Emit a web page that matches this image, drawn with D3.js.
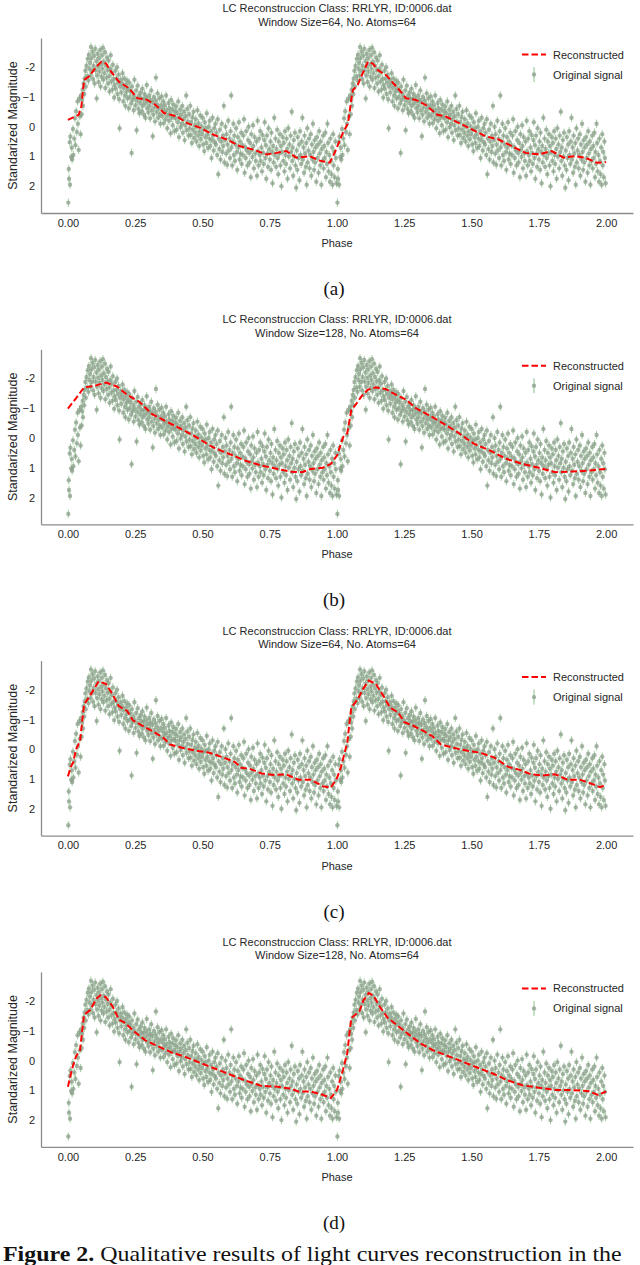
<!DOCTYPE html>
<html lang="en">
<head>
<meta charset="UTF-8">
<style>
  body { margin: 0; background: #fff; }
  svg text { font-family: "Liberation Sans", Arial, sans-serif; fill: #262626; }
  svg .cap { font-family: "Liberation Serif", "DejaVu Serif", serif; fill: #111; }
</style>
</head>
<body>
<svg id="fig" width="640" height="1265"></svg>
<script src="https://cdnjs.cloudflare.com/ajax/libs/d3/7.8.5/d3.min.js"></script>
<script>
// observed magnitudes over one phase period [phase, magnitude]; drawn twice (phase 0-2)
const observed = [
  [0.0015,2.55],[0.0032,1.42],[0.0041,1.75],[0.0068,0.52],[0.0079,1.95],[0.0093,0.33],[0.0121,1.02],[0.0144,0.71],[0.0158,1.1],[0.0187,0.08],[0.0203,0.95],[0.0236,0.4],
  [0.0262,-0.28],[0.0281,0.62],[0.0305,-0.52],[0.0334,0.18],[0.0359,-0.85],[0.0372,-0.1],[0.0401,0.78],[0.0428,-0.95],[0.0445,-0.35],[0.0473,0.25],[0.0491,-1.05],
  [0.0512,-0.42],[0.0528,-0.9],[0.0549,-1.25],[0.0561,-0.7],[0.0583,-1.45],[0.0607,-1.1],[0.0622,-1.62],[0.0648,-1.88],[0.0665,-1.35],[0.0691,-2.05],[0.0718,-1.7],[0.0737,-2.28],
  [0.0763,-1.55],[0.0781,-2.42],[0.0794,-1.95],[0.0822,-2.15],[0.0838,-1.72],[0.0857,-2.68],[0.0871,-2.3],[0.0895,-1.88],[0.0912,-2.52],[0.0934,-1.6],[0.0951,-2.05],[0.0978,-2.38],[0.0993,-1.45],
  [0.1012,-2.62],[0.1027,-1.9],[0.1058,-2.2],[0.1069,-0.95],[0.1083,-1.72],[0.1104,-2.45],[0.1122,-2.02],[0.1139,-1.5],[0.1156,-2.3],[0.1171,-1.85],[0.1198,-2.58],[0.1215,-1.35],[0.1233,-2.1],[0.1247,-1.68],
  [0.1266,-2.4],[0.1281,-1.95],[0.1302,-2.65],[0.1318,-1.58],[0.1335,-2.18],[0.1352,-1.8],[0.1378,-2.5],[0.1391,-1.3],[0.1413,-2.05],[0.1437,-1.65],[0.1452,-2.32],[0.1476,-1.9],[0.1494,-1.45],
  [0.1512,-2.22],[0.1538,-1.7],[0.1547,-1.18],[0.1573,-1.95],[0.1589,-2.4],[0.1612,-1.52],[0.1634,-1.82],[0.1655,-1.25],[0.1671,-2.08],[0.1697,-1.6],[0.1718,-0.98],[0.1734,-1.4],
  [0.1762,-1.88],[0.1779,-1.28],[0.1802,-1.62],[0.1826,-2.0],[0.1843,-1.1],[0.1861,-1.48],[0.1885,-1.75],[0.1902,-0.92],[0.1921,0.05],[0.1938,-1.35],[0.1964,-1.58],[0.1983,-1.15],
  [0.2015,-1.45],[0.2031,-1.8],[0.2058,-0.85],[0.2074,-1.3],[0.2092,-1.62],[0.2118,-1.05],[0.2137,-0.7],[0.2155,-1.4],[0.2178,-1.18],[0.2196,-1.55],[0.2214,-0.95],[0.2241,-1.28],
  [0.2263,-0.62],[0.2279,-1.48],[0.2301,-1.0],[0.2325,-1.2],[0.2348,-0.78],[0.2367,0.88],[0.2382,-1.35],[0.2404,-0.9],[0.2429,-1.1],[0.2445,-0.55],[0.2471,-1.58],[0.2489,-0.98],
  [0.2513,-0.72],[0.2536,-1.22],[0.2552,0.12],[0.2578,-0.88],[0.2595,-1.38],[0.2617,-0.6],[0.2638,-1.05],[0.2659,-0.45],[0.2684,-0.8],[0.2702,-1.15],[0.2725,-0.95],[0.2746,-0.52],
  [0.2768,-1.28],[0.2781,-0.7],[0.2809,-0.92],[0.2826,-0.4],[0.2844,-1.1],[0.2867,-0.78],[0.2883,-0.3],[0.2911,-0.98],[0.2929,-1.4],[0.2946,-0.62],[0.2973,-0.85],[0.2991,-0.48],
  [0.3018,-1.05],[0.3035,-0.7],[0.3057,-0.28],[0.3072,-0.9],[0.3098,-1.22],[0.3116,-0.55],[0.3139,-0.82],[0.3154,0.32],[0.3177,-0.4],[0.3195,-1.0],[0.3218,-0.65],[0.3236,-0.18],
  [0.3258,-0.88],[0.3271,-1.65],[0.3297,-0.5],[0.3315,-0.75],[0.3334,-1.12],[0.3352,-0.3],[0.3379,-0.62],[0.3395,-0.95],[0.3418,-0.42],[0.3436,-0.1],[0.3459,-0.72],[0.3481,-1.02],
  [0.3502,-0.35],[0.3527,-0.6],[0.3545,-0.85],[0.3561,-0.12],[0.3589,-0.48],[0.3603,-0.72],[0.3628,-0.25],[0.3649,-1.05],[0.3667,-0.55],[0.3691,0.05],[0.3712,-0.38],[0.3738,-0.8],
  [0.3756,-0.2],[0.3772,-0.62],[0.3795,-0.45],[0.3818,0.22],[0.3836,-0.9],[0.3853,-0.3],[0.3877,-0.58],[0.3895,-0.05],[0.3914,-0.75],[0.3938,-0.35],[0.3957,0.15],[0.3981,-0.52],
  [0.4003,-0.28],[0.4019,-0.68],[0.4042,0.1],[0.4065,-0.45],[0.4088,-0.15],[0.4101,-0.85],[0.4127,0.35],[0.4145,-0.3],[0.4168,-0.58],[0.4186,0.02],[0.4209,-0.4],[0.4234,-0.1],
  [0.4252,-0.7],[0.4273,0.2],[0.4291,-0.25],[0.4316,-0.5],[0.4338,0.45],[0.4357,-0.05],[0.4379,-0.35],[0.4396,-1.05],[0.4412,0.12],[0.4437,-0.6],[0.4458,-0.18],[0.4483,0.3],
  [0.4504,-0.42],[0.4521,0.05],[0.4548,-0.7],[0.4566,0.28],[0.4582,-0.15],[0.4607,0.55],[0.4628,-0.32],[0.4643,0.1],[0.4669,-0.5],[0.4688,0.38],[0.4712,-0.05],[0.4735,0.2],
  [0.4751,-0.25],[0.4778,0.5],[0.4796,0.0],[0.4812,-0.55],[0.4839,0.3],[0.4855,-0.12],[0.4877,0.65],[0.4892,0.15],[0.4918,-0.38],[0.4936,0.42],[0.4957,-0.02],[0.4982,0.25],
  [0.5008,-0.3],[0.5026,0.6],[0.5041,0.1],[0.5067,0.82],[0.5085,-0.15],[0.5103,0.35],[0.5128,0.05],[0.5146,0.55],[0.5161,-0.45],[0.5187,0.25],[0.5209,0.72],[0.5232,0.0],
  [0.5255,0.4],[0.5271,-0.2],[0.5293,0.65],[0.5318,0.15],[0.5337,1.05],[0.5352,0.45],[0.5376,-0.3],[0.5394,0.3],[0.5417,0.8],[0.5436,0.05],[0.5458,0.52],[0.5483,-0.1],
  [0.5502,0.6],[0.5524,0.2],[0.5547,0.95],[0.5569,-0.25],[0.5588,1.6],[0.5605,0.4],[0.5627,0.75],[0.5649,0.1],[0.5671,1.1],[0.5694,0.5],[0.5718,-0.1],[0.5736,0.85],
  [0.5758,0.3],[0.5773,0.65],[0.5796,-0.7],[0.5814,1.2],[0.5837,0.45],[0.5856,0.0],[0.5879,0.9],[0.5895,0.25],[0.5918,1.28],[0.5935,0.6],[0.5959,-0.2],[0.5982,0.8],
  [0.6006,0.4],[0.6024,1.05],[0.6047,0.15],[0.6068,-1.05],[0.6081,0.7],[0.6105,1.3],[0.6126,0.5],[0.6148,-0.1],[0.6167,0.95],[0.6185,0.3],[0.6208,1.15],[0.6234,0.6],
  [0.6251,0.05],[0.6277,0.85],[0.6294,1.45],[0.6316,0.35],[0.6339,0.7],[0.6355,-0.15],[0.6378,1.1],[0.6396,0.5],[0.6413,0.9],[0.6438,0.2],[0.6457,1.25],[0.6481,0.62],
  [0.6503,0.95],[0.6522,0.3],[0.6545,-0.25],[0.6568,1.55],[0.6584,0.68],[0.6609,1.05],[0.6626,0.15],[0.6647,0.8],[0.6671,1.3],[0.6693,0.45],[0.6715,0.0],[0.6736,0.88],
  [0.6752,1.2],[0.6774,0.55],[0.6798,1.7],[0.6815,0.25],[0.6833,0.78],[0.6857,1.02],[0.6879,-0.05],[0.6894,0.65],[0.6912,1.4],[0.6937,0.35],[0.6959,0.9],[0.6984,1.15],
  [0.7008,0.5],[0.7027,1.65],[0.7049,-0.2],[0.7063,0.82],[0.7088,1.3],[0.7105,0.4],[0.7129,0.95],[0.7146,0.15],[0.7165,1.15],[0.7191,0.7],[0.7213,1.5],[0.7232,0.28],
  [0.7254,0.88],[0.7277,1.25],[0.7298,0.45],[0.7314,-0.15],[0.7336,1.05],[0.7359,0.62],[0.7372,1.75],[0.7397,0.3],[0.7418,0.9],[0.7436,1.35],[0.7457,0.05],[0.7484,0.75],
  [0.7506,1.1],[0.7528,0.5],[0.7549,1.45],[0.7563,0.2],[0.7588,0.85],[0.7604,1.9],[0.7627,0.65],[0.7646,1.2],[0.7669,-0.3],[0.7688,0.95],[0.7714,0.4],[0.7735,1.35],
  [0.7752,0.75],[0.7777,0.1],[0.7795,1.05],[0.7816,1.6],[0.7834,0.5],[0.7858,0.9],[0.7879,0.25],[0.7897,1.3],[0.7916,0.65],[0.7935,2.0],[0.7958,0.85],[0.7984,0.35],
  [0.8003,1.15],[0.8025,0.55],[0.8047,1.5],[0.8069,0.15],[0.8084,0.95],[0.8107,1.25],[0.8129,0.4],[0.8146,0.75],[0.8163,1.75],[0.8188,0.05],[0.8212,1.0],[0.8233,0.6],
  [0.8256,1.4],[0.8278,0.3],[0.8295,0.85],[0.8318,-0.5],[0.8337,1.15],[0.8354,0.7],[0.8372,1.65],[0.8396,0.45],[0.8419,1.0],[0.8437,0.2],[0.8458,1.3],[0.8483,2.05],
  [0.8502,0.8],[0.8526,1.45],[0.8543,0.35],[0.8567,1.05],[0.8589,0.6],[0.8605,1.8],[0.8627,0.15],[0.8645,0.95],[0.8668,1.25],[0.8691,0.5],[0.8713,-0.3],[0.8734,1.1],
  [0.8757,0.7],[0.8776,1.55],[0.8794,0.3],[0.8815,0.9],[0.8838,1.35],[0.8857,0.55],[0.8874,1.95],[0.8897,0.05],[0.8913,1.2],[0.8939,0.8],[0.8958,0.4],[0.8983,1.4],
  [0.9004,0.95],[0.9027,0.25],[0.9046,1.65],[0.9068,0.6],[0.9087,1.1],[0.9106,-0.1],[0.9125,0.85],[0.9148,1.45],[0.9169,0.45],[0.9185,1.2],[0.9208,0.7],[0.9231,1.85],
  [0.9256,0.35],[0.9273,1.05],[0.9297,0.6],[0.9314,1.55],[0.9336,0.15],[0.9358,0.9],[0.9377,1.3],[0.9396,0.5],[0.9418,1.95],[0.9435,0.75],[0.9459,1.15],[0.9484,0.3],
  [0.9503,1.4],[0.9525,0.65],[0.9546,1.05],[0.9567,0.2],[0.9589,1.7],[0.9605,0.85],[0.9628,1.25],[0.9646,-0.1],[0.9665,0.55],[0.9688,1.5],[0.9714,0.95],[0.9738,1.85],
  [0.9753,0.4],[0.9774,1.15],[0.9797,1.6],[0.9818,0.7],[0.9836,1.95],[0.9857,0.25],[0.9876,1.3],[0.9894,0.85],[0.9915,1.7],[0.9938,0.5],[0.9957,1.05],[0.9982,1.9]
]
const magErr = 0.14

// reconstructed curves [phase, magnitude]
const recA = [
  [0.0,-0.23],[0.04,-0.4],[0.05,-0.67],[0.06,-1.57],[0.08,-1.7],[0.105,-2.01],[0.124,-2.18],[0.142,-2.12],[0.161,-1.84],[0.19,-1.51],[0.227,-1.29],[0.258,-0.96],
  [0.295,-0.9],[0.326,-0.73],[0.357,-0.46],[0.406,-0.34],[0.443,-0.12],[0.492,0.04],[0.541,0.27],[0.591,0.43],[0.64,0.66],[0.689,0.77],[0.738,0.93],[0.775,0.88],
  [0.812,0.82],[0.849,1.04],[0.898,0.99],[0.936,1.14],[0.973,1.21],[0.991,0.88],[1.022,0.21],[1.041,-0.12],[1.053,-0.9],[1.059,-1.23],[1.077,-1.4],[1.09,-1.68],
  [1.115,-2.18],[1.133,-2.12],[1.152,-1.9],[1.183,-1.73],[1.232,-1.23],[1.256,-0.96],[1.293,-0.9],[1.33,-0.73],[1.373,-0.4],[1.404,-0.34],[1.454,-0.12],[1.503,0.1],
  [1.552,0.32],[1.601,0.43],[1.651,0.66],[1.7,0.88],[1.749,0.93],[1.798,0.82],[1.842,1.04],[1.885,0.99],[1.922,1.04],[1.965,1.21],[2.0,1.19]
]
const recB = [
  [0.0,-0.99],[0.03,-1.33],[0.06,-1.7],[0.098,-1.75],[0.141,-1.86],[0.182,-1.73],[0.22,-1.45],[0.265,-1.22],[0.31,-0.82],[0.356,-0.6],[0.417,-0.32],[0.477,-0.03],
  [0.538,0.31],[0.598,0.53],[0.659,0.76],[0.72,0.93],[0.78,1.04],[0.826,1.13],[0.871,1.15],[0.902,1.04],[0.947,1.0],[0.977,0.87],[1.0,0.59],[1.023,-0.03],
  [1.038,-0.15],[1.053,-0.94],[1.068,-1.1],[1.09,-1.39],[1.114,-1.62],[1.144,-1.7],[1.182,-1.64],[1.22,-1.45],[1.258,-1.28],[1.295,-0.99],[1.341,-0.77],[1.394,-0.49],
  [1.447,-0.2],[1.508,0.19],[1.568,0.42],[1.629,0.7],[1.689,0.87],[1.75,1.0],[1.811,1.15],[1.871,1.13],[1.932,1.1],[1.997,1.04]
]
const recC = [
  [0.0,0.91],[0.011,0.59],[0.02,0.43],[0.03,0.0],[0.045,-0.27],[0.06,-1.5],[0.076,-1.72],[0.098,-2.04],[0.114,-2.28],[0.141,-2.2],[0.167,-1.83],[0.189,-1.45],
  [0.22,-1.29],[0.242,-0.97],[0.273,-0.81],[0.318,-0.59],[0.356,-0.38],[0.379,-0.16],[0.424,-0.05],[0.477,0.05],[0.523,0.11],[0.576,0.27],[0.621,0.43],[0.644,0.62],
  [0.674,0.65],[0.72,0.81],[0.765,0.86],[0.811,0.84],[0.856,1.02],[0.902,1.02],[0.947,1.24],[0.977,1.29],[1.0,0.97],[1.015,0.59],[1.038,-0.22],[1.053,-1.4],
  [1.076,-1.67],[1.098,-2.04],[1.118,-2.31],[1.144,-2.2],[1.174,-1.77],[1.197,-1.4],[1.227,-1.24],[1.25,-0.91],[1.28,-0.81],[1.326,-0.59],[1.356,-0.43],[1.386,-0.16],
  [1.432,-0.05],[1.485,0.05],[1.53,0.11],[1.583,0.27],[1.636,0.59],[1.682,0.7],[1.72,0.84],[1.765,0.88],[1.811,0.84],[1.856,1.02],[1.902,1.02],[1.947,1.16],[1.977,1.27],[2.0,1.2]
]
const recD = [
  [0.0,0.88],[0.015,0.29],[0.03,-0.14],[0.045,-0.35],[0.06,-1.54],[0.083,-1.7],[0.106,-2.08],[0.121,-2.2],[0.141,-2.13],[0.167,-1.81],[0.189,-1.38],[0.212,-1.27],
  [0.25,-0.95],[0.288,-0.68],[0.326,-0.52],[0.386,-0.27],[0.432,-0.14],[0.492,0.08],[0.538,0.24],[0.598,0.45],[0.659,0.67],[0.72,0.85],[0.78,0.88],[0.826,0.94],
  [0.856,1.04],[0.902,1.04],[0.947,1.15],[0.977,1.26],[1.0,0.99],[1.023,0.29],[1.038,-0.25],[1.053,-1.43],[1.083,-1.65],[1.098,-2.02],[1.118,-2.27],[1.136,-2.18],
  [1.159,-1.81],[1.189,-1.43],[1.227,-1.16],[1.265,-0.89],[1.311,-0.57],[1.356,-0.35],[1.402,-0.19],[1.462,0.02],[1.523,0.24],[1.583,0.45],[1.636,0.67],[1.689,0.83],
  [1.75,0.91],[1.811,0.99],[1.871,0.99],[1.932,1.02],[1.97,1.15],[2.0,1.04]
]

const subLabels = ['(a)', '(b)', '(c)', '(d)']
const windowSizes = [64, 128, 64, 128]
const atoms = [64, 64, 64, 64]
const curves = [recA, recB, recC, recD]
const xTicks = [0, 0.25, 0.5, 0.75, 1, 1.25, 1.5, 1.75, 2]
const yTicks = [-2, -1, 0, 1, 2]
const yTickLabels = ['-2', '\u22121', '0', '1', '2']

const panelStep = 311.3
const svg = d3.select('#fig')
svg.append('rect').attr('width', 640).attr('height', 1265).attr('fill', '#fff')

const x = d3.scaleLinear().domain([-0.1, 2.1]).range([41, 633])
const y = d3.scaleLinear().domain([-2.98, 2.9]).range([38, 213])

const points = observed.concat(observed.map(d => [d[0] + 1, d[1]]))

const line = d3.line().x(d => x(d[0])).y(d => y(d[1]))

curves.forEach((rec, k) => {
  const g = svg.append('g').attr('transform', `translate(0,${k * panelStep})`)

  // titles
  g.append('text').attr('x', 337).attr('y', 12).attr('text-anchor', 'middle')
    .attr('font-size', 11).text('LC Reconstruccion Class: RRLYR, ID:0006.dat')
  g.append('text').attr('x', 337).attr('y', 25.5).attr('text-anchor', 'middle')
    .attr('font-size', 11).text(`Window Size=${windowSizes[k]}, No. Atoms=${atoms[k]}`)

  // axes
  const xa = g.append('g').attr('transform', 'translate(0,213)')
    .call(d3.axisBottom(x).tickValues(xTicks).tickSize(0).tickPadding(6).tickFormat(d3.format('.2f')))
  const ya = g.append('g').attr('transform', 'translate(41,0)')
    .call(d3.axisLeft(y).tickValues(yTicks).tickSize(0).tickPadding(6).tickFormat((d, i) => yTickLabels[i]))
  ;[xa, ya].forEach(a => {
    a.select('.domain').attr('stroke', '#8c8c8c').attr('stroke-width', 1.3)
    a.selectAll('text').attr('font-size', 11).attr('fill', '#262626')
      .style('font-family', '"Liberation Sans", Arial, sans-serif')
  })

  g.append('text').attr('x', 337).attr('y', 247).attr('text-anchor', 'middle')
    .attr('font-size', 11).text('Phase')
  g.append('text').attr('transform', 'translate(16.5,125.5) rotate(-90)').attr('text-anchor', 'middle')
    .attr('font-size', 12.5).text('Standarized Magnitude')

  // observed points with error bars
  const pts = g.append('g')
  pts.selectAll('line').data(points).join('line')
    .attr('x1', d => x(d[0])).attr('x2', d => x(d[0]))
    .attr('y1', d => y(d[1] - magErr)).attr('y2', d => y(d[1] + magErr))
    .attr('stroke', '#8cc48c').attr('stroke-width', 1).attr('opacity', 0.8)
  pts.selectAll('circle').data(points).join('circle')
    .attr('cx', d => x(d[0])).attr('cy', d => y(d[1])).attr('r', 2.2)
    .attr('fill', '#889a88').attr('opacity', 0.72)

  // reconstruction
  g.append('path').datum(rec).attr('d', line)
    .attr('fill', 'none').attr('stroke', '#ff0000').attr('stroke-width', 2)
    .attr('stroke-dasharray', '6.5,3')

  // legend
  g.append('line').attr('x1', 522).attr('x2', 546).attr('y1', 54.5).attr('y2', 54.5)
    .attr('stroke', '#ff0000').attr('stroke-width', 2).attr('stroke-dasharray', '6.5,3')
  g.append('text').attr('x', 553).attr('y', 58.5).attr('font-size', 11).text('Reconstructed')
  g.append('line').attr('x1', 534).attr('x2', 534).attr('y1', 67).attr('y2', 82)
    .attr('stroke', '#8cc48c').attr('stroke-width', 1)
  g.append('circle').attr('cx', 534).attr('cy', 74.5).attr('r', 2.2)
    .attr('fill', '#889a88').attr('opacity', 0.72)
  g.append('text').attr('x', 553).attr('y', 78.5).attr('font-size', 11).text('Original signal')

  // sub-caption
  g.append('text').attr('class', 'cap').attr('x', 334).attr('y', 295).attr('text-anchor', 'middle')
    .attr('font-size', 19).text(subLabels[k])
})

const cap = svg.append('text').attr('class', 'cap')
  .attr('transform', 'translate(3,1261) scale(1.14,1)').attr('font-size', 21)
cap.append('tspan').attr('font-weight', 'bold').text('Figure 2.')
cap.append('tspan').text(' Qualitative results of light curves reconstruction in the')
</script>
</body>
</html>
